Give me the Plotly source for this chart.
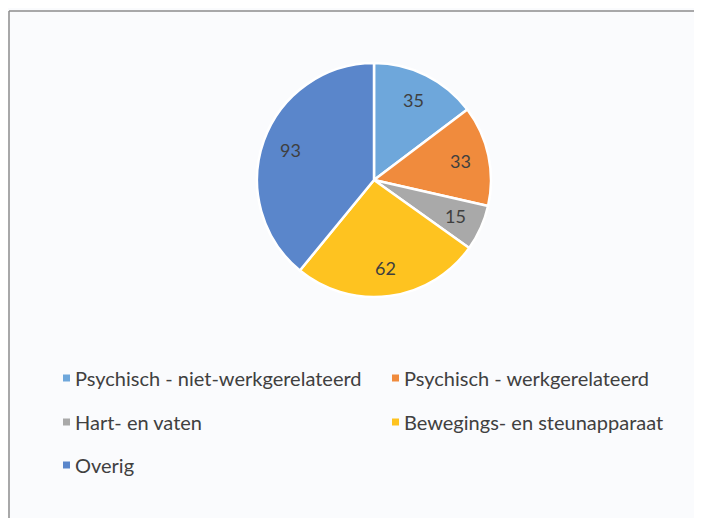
import math
import plotly.graph_objects as go

labels = ["Psychisch - niet-werkgerelateerd", "Psychisch - werkgerelateerd",
          "Hart- en vaten", "Bewegings- en steunapparaat", "Overig"]
values = [35, 33, 15, 62, 93]
colors = ["#6EA7DB", "#F08B3D", "#A9A9A9", "#FEC320", "#5A86CB"]

# page body has an 8px margin
OFF = 8
W, H = 702 - OFF, 518 - OFF
cx, cy, r = 374 - OFF, 180 - OFF, 117


def px(x):
    return x / W


def py(y):
    return 1 - y / H


FONT = "Lato, Open Sans, sans-serif"

fig = go.Figure(go.Pie(
    labels=labels, values=values, sort=False, direction="clockwise", rotation=0,
    marker=dict(colors=colors, line=dict(color="white", width=2.5)),
    textinfo="none", showlegend=False, hoverinfo="label+value",
    domain=dict(x=[px(cx - r), px(cx + r)], y=[py(cy + r), py(cy - r)]),
))

ann = []
shapes = []

# value labels placed at mid-angle of each slice
total = sum(values)
cum = 0
for v in values:
    mid = (cum + v / 2) / total * 2 * math.pi
    cum += v
    lx = cx + 0.76 * r * math.sin(mid)
    ly = cy - 0.76 * r * math.cos(mid)
    ann.append(dict(text=str(v), xref="paper", yref="paper", x=px(lx), y=py(ly),
                    xanchor="center", yanchor="middle", showarrow=False,
                    font=dict(family=FONT, size=18, color="#3F3F3F")))

# custom legend (2 columns)
col_x = [63 - OFF, 392 - OFF]
row_y = [378 - OFF, 422 - OFF, 465 - OFF]
for i, (lab, col) in enumerate(zip(labels, colors)):
    x0 = col_x[i % 2]
    y0 = row_y[i // 2]
    shapes.append(dict(type="rect", xref="paper", yref="paper",
                       x0=px(x0), x1=px(x0 + 7), y0=py(y0 + 3.5), y1=py(y0 - 3.5),
                       fillcolor=col, line=dict(width=0)))
    ann.append(dict(text=lab, xref="paper", yref="paper", x=px(x0 + 10), y=py(y0),
                    xanchor="left", yanchor="middle", showarrow=False,
                    font=dict(family=FONT, size=20, color="#404040")))

# frame lines (top and left)
shapes.append(dict(type="line", xref="paper", yref="paper", x0=px(1), x1=1, y0=py(3), y1=py(3),
                   line=dict(color="#8C8C8C", width=1.5)))
shapes.append(dict(type="line", xref="paper", yref="paper", x0=px(1), x1=px(1), y0=0, y1=py(3),
                   line=dict(color="#8C8C8C", width=1.5)))

fig.update_layout(
    width=W, height=H, margin=dict(l=0, r=0, t=0, b=0),
    paper_bgcolor="#FAFBFD", plot_bgcolor="#FAFBFD",
    annotations=ann, shapes=shapes,
)
fig.write_html("out.html")
